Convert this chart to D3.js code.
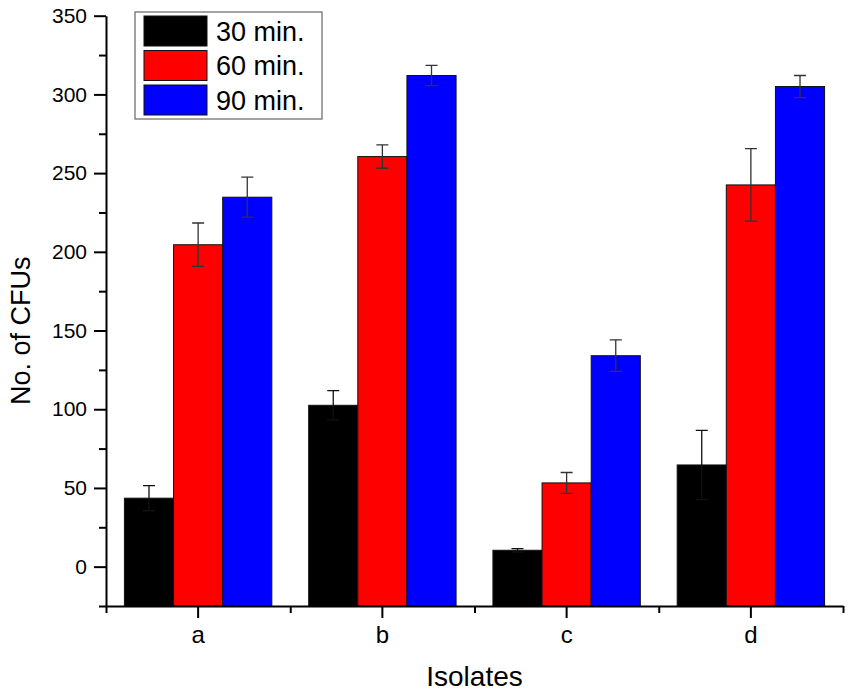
<!DOCTYPE html>
<html>
<head>
<meta charset="utf-8">
<script src="https://cdn.jsdelivr.net/npm/d3@7"></script>
<style>
  body { margin: 0; background: #fff; }
  svg { font-family: Arial, "Liberation Sans", sans-serif; }
</style>
</head>
<body>
<svg id="chart"></svg>
<script>
const WIDTH = 851, HEIGHT = 696;

// data
const categories = ['a', 'b', 'c', 'd'];
const seriesNames = ['30 min.', '60 min.', '90 min.'];
const seriesColors = ['#000000', '#ff0000', '#0000ff'];
const mean30 = [43.5, 102.5, 10.4, 64.6];
const mean60 = [204.5, 260.5, 53.2, 242.5];
const mean90 = [234.7, 312, 134, 305];
const err30 = [8, 9.3, 1.1, 22];
const err60 = [13.8, 7.4, 6.6, 23];
const err90 = [12.7, 6.4, 10, 7];
const yTicks = [0, 50, 100, 150, 200, 250, 300, 350];
const yMinorTicks = [-25, 25, 75, 125, 175, 225, 275, 325];

const means = [mean30, mean60, mean90];
const errs = [err30, err60, err90];

const margin = { top: 15.7, bottom: 90, left: 106, right: 8 };

const svg = d3.select('svg#chart')
    .attr('width', WIDTH)
    .attr('height', HEIGHT);

const x0 = d3.scaleBand()
    .domain(categories)
    .range([margin.left, WIDTH - margin.right])
    .paddingInner(0.2)
    .paddingOuter(0.1);

const x1 = d3.scaleBand()
    .domain(seriesNames)
    .range([0, x0.bandwidth()]);

const y = d3.scaleLinear()
    .domain([-25, 350])
    .range([HEIGHT - margin.bottom, margin.top]);

// flat list of bars
const bars = [];
categories.forEach((c, i) => {
    seriesNames.forEach((s, j) => {
        bars.push({ cat: c, series: s, color: seriesColors[j], value: means[j][i], err: errs[j][i] });
    });
});

const barGroup = svg.append('g').attr('id', 'bars');

barGroup.selectAll('rect.bar')
    .data(bars)
    .join('rect')
        .attr('class', 'bar')
        .attr('x', d => x0(d.cat) + x1(d.series))
        .attr('width', x1.bandwidth())
        .attr('y', d => y(d.value))
        .attr('height', d => y.range()[0] - y(d.value))
        .attr('fill', d => d.color)
        .attr('stroke', '#111')
        .attr('stroke-width', 1);

// error bars
const errGroup = svg.append('g').attr('id', 'errors')
    .attr('stroke-width', 1.3);

const cap = 6;
errGroup.selectAll('path.err')
    .data(bars)
    .join('path')
        .attr('class', 'err')
        .attr('fill', 'none')
        .attr('stroke', d => d.color === '#000000' ? '#111' : '#333')
        .attr('d', d => {
            const cx = x0(d.cat) + x1(d.series) + x1.bandwidth() / 2;
            const yt = y(d.value + d.err), yb = y(d.value - d.err);
            return `M${cx - cap},${yt}H${cx + cap}M${cx},${yt}V${yb}M${cx - cap},${yb}H${cx + cap}`;
        });

// axes
const styleAxis = (g, size) => {
    g.selectAll('path, line').attr('stroke', '#000').attr('stroke-width', 2);
    g.selectAll('text').attr('fill', '#000').style('font-size', size + 'px')
        .style('font-family', 'Arial, "Liberation Sans", sans-serif');
};

svg.append('g')
    .attr('transform', `translate(${margin.left},0)`)
    .call(d3.axisLeft(y).tickValues(yTicks).tickSize(12).tickSizeOuter(0).tickPadding(7))
    .call(styleAxis, 21);

svg.append('g')
    .attr('transform', `translate(${margin.left},0)`)
    .call(d3.axisLeft(y).tickValues(yMinorTicks).tickSize(7).tickFormat(''))
    .call(g => g.select('.domain').remove())
    .call(styleAxis, 21);

const xBase = y.range()[0];

svg.append('g')
    .attr('transform', `translate(0,${xBase})`)
    .call(d3.axisBottom(x0).tickSize(12).tickSizeOuter(0).tickPadding(8))
    .call(styleAxis, 24);

// minor ticks on the category boundaries
const xEdge = d3.scaleLinear()
    .domain([0, categories.length])
    .range(x0.range());

svg.append('g')
    .attr('transform', `translate(0,${xBase})`)
    .call(d3.axisBottom(xEdge).tickValues(d3.range(categories.length + 1)).tickSize(7).tickFormat(''))
    .call(g => g.select('.domain').remove())
    .call(styleAxis, 24);

// axis titles
svg.append('text')
    .attr('x', (x0.range()[0] + x0.range()[1]) / 2)
    .attr('y', 686)
    .attr('text-anchor', 'middle')
    .style('font-size', '28px')
    .text('Isolates');

svg.append('text')
    .attr('transform', `translate(30, ${(y(-25) + y(350)) / 2 + 20}) rotate(-90)`)
    .attr('text-anchor', 'middle')
    .style('font-size', '27px')
    .text('No. of CFUs');

// legend
const legend = svg.append('g').attr('id', 'legend');

legend.append('rect')
    .attr('x', 135).attr('y', 12)
    .attr('width', 187).attr('height', 107)
    .attr('fill', '#fff')
    .attr('stroke', '#666')
    .attr('stroke-width', 1.2);

const items = legend.selectAll('g.item')
    .data(seriesNames)
    .join('g')
        .attr('class', 'item')
        .attr('transform', (d, i) => `translate(144, ${16 + i * 34.5})`);

items.append('rect')
    .attr('width', 63).attr('height', 30)
    .attr('fill', (d, i) => seriesColors[i])
    .attr('stroke', '#111');

items.append('text')
    .attr('x', 72).attr('y', 24.5)
    .style('font-size', '27px')
    .text(d => d);
</script>
</body>
</html>
